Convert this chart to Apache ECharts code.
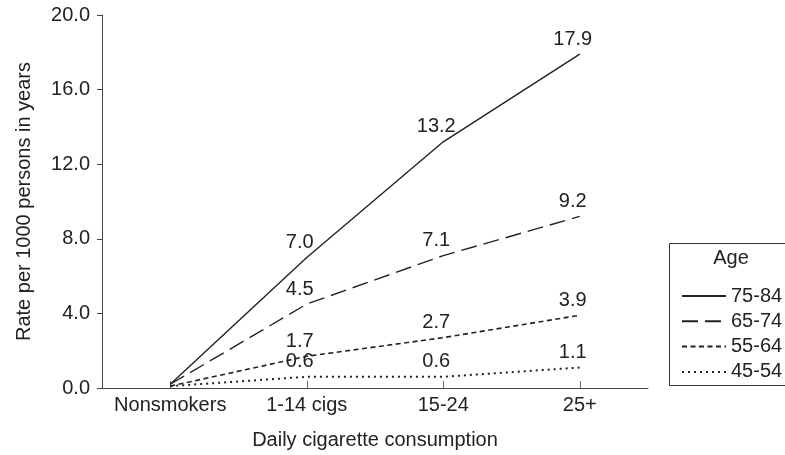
<!DOCTYPE html>
<html>
<head>
<meta charset="utf-8">
<script src="https://cdn.jsdelivr.net/npm/echarts@6/dist/echarts.min.js"></script>
<style>
  html, body { margin: 0; padding: 0; background: #fff; }
  #chart { width: 785px; height: 455px; }
</style>
</head>
<body>
<div id="chart"></div>
<script>
// categories and series
const categories = ['Nonsmokers', '1-14 cigs', '15-24', '25+'];
const ageGroups = ['75-84', '65-74', '55-64', '45-54'];
const age7584 = [0.2, 7.0, 13.2, 17.9];
const age6574 = [0.2, 4.5, 7.1, 9.2];
const age5564 = [0.1, 1.7, 2.7, 3.9];
const age4554 = [0.1, 0.6, 0.6, 1.1];
const yTicks = [0, 4, 8, 12, 16, 20];

const chartDom = document.getElementById('chart');
const myChart = echarts.init(chartDom);

const font = 'Liberation Sans, Arial, sans-serif';
const ink = '#222';

function makeSeries(name, data, dash, width) {
    return {
        name: name,
        type: 'line',
        data: data,
        symbol: 'circle',
        symbolSize: 0,
        itemStyle: { color: ink },
        lineStyle: { color: ink, width: width, type: dash },
        label: {
            show: true,
            position: 'top',
            distance: 5,
            offset: [-7, 0],
            fontFamily: font,
            fontSize: 20,
            color: ink,
            formatter: p => p.dataIndex === 0 ? '' : p.value.toFixed(1)
        }
    };
}

const option = {
    animation: false,
    grid: { left: 102, right: 137, top: 15, bottom: 67 },
    xAxis: {
        type: 'category',
        data: categories,
        boundaryGap: true,
        name: 'Daily cigarette consumption',
        nameLocation: 'middle',
        nameGap: 42,
        nameTextStyle: { fontFamily: font, fontSize: 20, color: ink },
        axisLine: { lineStyle: { color: '#444', width: 1 } },
        axisTick: { show: true, alignWithLabel: true, inside: true, length: 7, lineStyle: { color: '#666' } },
        axisLabel: { interval: 0, fontFamily: font, fontSize: 20, color: ink, margin: 7 }
    },
    yAxis: {
        type: 'value',
        min: 0,
        max: 20,
        interval: 4,
        name: 'Rate per 1000 persons in years',
        nameLocation: 'middle',
        nameGap: 68,
        nameTextStyle: { fontFamily: font, fontSize: 20, color: ink },
        splitLine: { show: false },
        axisLine: { show: true, lineStyle: { color: '#444', width: 1 } },
        axisTick: { show: true, length: 5, lineStyle: { color: '#444' } },
        axisLabel: {
            fontFamily: font, fontSize: 20, color: ink, margin: 12,
            formatter: v => yTicks.includes(v) ? v.toFixed(1) : ''
        }
    },
    legend: {
        orient: 'vertical',
        left: 676,
        top: 281,
        itemWidth: 44,
        itemHeight: 14,
        itemGap: 5.3,
        data: ageGroups,
        itemStyle: { opacity: 0 },
        textStyle: { fontFamily: font, fontSize: 20, lineHeight: 20, color: ink }
    },
    graphic: [
        {
            type: 'rect',
            shape: { x: 669.5, y: 243.5, width: 130, height: 142 },
            style: { fill: 'none', stroke: '#333', lineWidth: 1 }
        },
        {
            type: 'text',
            x: 731,
            y: 258,
            style: {
                text: 'Age', fontFamily: font, fontSize: 20, fill: ink,
                textAlign: 'center', textVerticalAlign: 'middle'
            }
        }
    ],
    series: [
        makeSeries(ageGroups[0], age7584, 'solid', 1.4),
        makeSeries(ageGroups[1], age6574, [16, 7], 1.4),
        makeSeries(ageGroups[2], age5564, [5, 3.5], 1.6),
        makeSeries(ageGroups[3], age4554, [2, 4], 2)
    ]
};
myChart.setOption(option);
</script>
</body>
</html>
